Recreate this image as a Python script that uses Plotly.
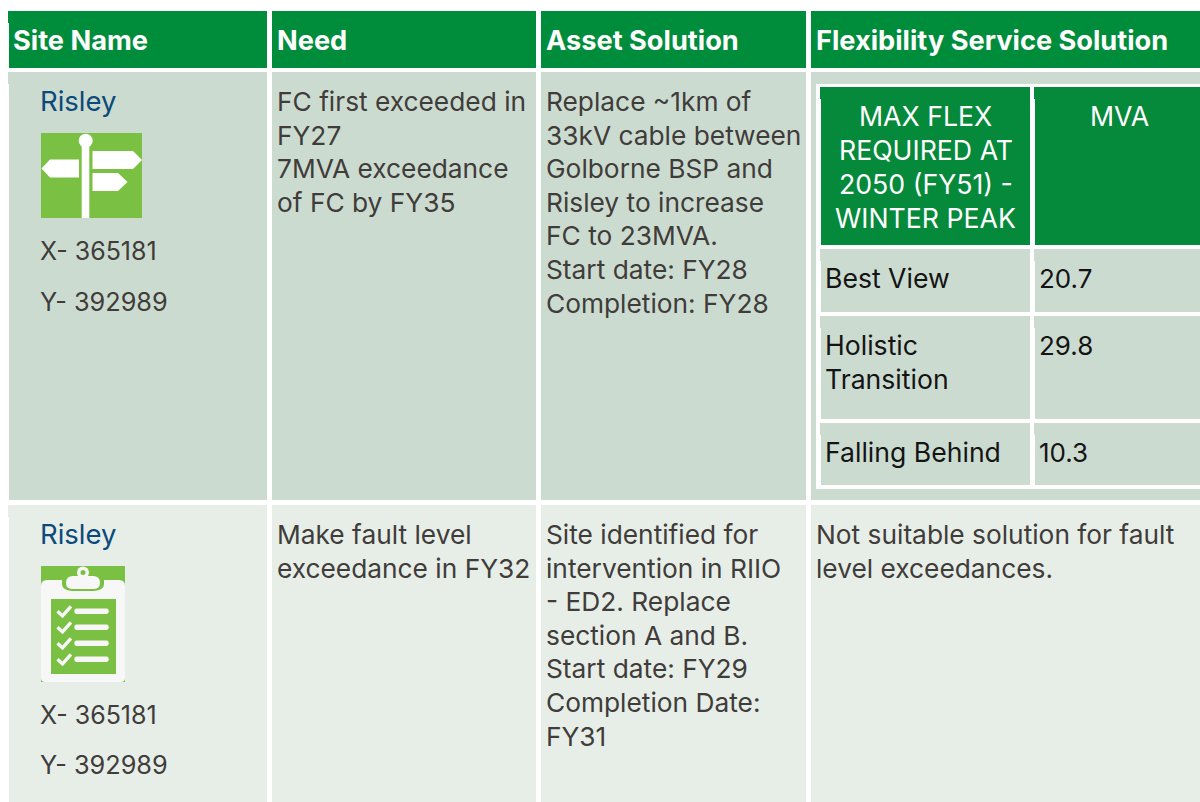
import plotly.graph_objects as go

# ---------- table content ----------
header_labels = ["Site Name", "Need", "Asset Solution", "Flexibility Service Solution"]
site_names = ["Risley", "Risley"]
site_x = ["X- 365181", "X- 365181"]
site_y = ["Y- 392989", "Y- 392989"]
needs = ["FC first exceeded in<br>FY27<br>7MVA exceedance<br>of FC by FY35",
         "Make fault level<br>exceedance in FY32"]
assets = ["Replace ~1km of<br>33kV cable between<br>Golborne BSP and<br>Risley to increase<br>FC to 23MVA.<br>Start date: FY28<br>Completion: FY28",
          "Site identified for<br>intervention in RIIO<br>- ED2. Replace<br>section A and B.<br>Start date: FY29<br>Completion Date:<br>FY31"]
flex_note = "Not suitable solution for fault<br>level exceedances."
nested_head = ["MAX FLEX<br>REQUIRED AT<br>2050 (FY51) -<br>WINTER PEAK", "MVA"]
scenarios = ["Best View", "Holistic<br>Transition", "Falling Behind"]
mva_values = [20.7, 29.8, 10.3]

# ---------- layout geometry (pixels) ----------
W, H = 1200, 802
col_left = [9, 272, 541, 811]
col_right = [267, 536, 806, 1200]
row_top = [11, 72, 505]
row_bot = [68, 500, 802]
nest_left = [821, 1035]
nest_right = [1030, 1200]
nest_top = [87, 249, 316, 423]
nest_bot = [245, 312, 419, 485]
GREEN, GREEN2 = "#008d3b", "#05893a"
ROW1, ROW2 = "#ccdbd0", "#e7eee8"
ICON = "#7ac143"
BODY, LINK, DARK = "#403c3a", "#0b4a7a", "#141414"
FONT = "Inter"
SIZE = 26.3
LINE = 33.6
PAD = 3.3  # annotation box padding to compensate
DY = -0.6

shapes, annos = [], []

def rect(x0, y0, x1, y1, color, notch=False):
    shapes.append(dict(type="rect", xref="x", yref="y", x0=x0, y0=y0, x1=x1, y1=y1,
                       fillcolor=color, line_width=0, layer="below"))
    if notch:
        shapes.append(dict(type="rect", xref="x", yref="y", x0=x0 - 1, y0=y0, x1=x0, y1=y0 + 12,
                           fillcolor=color, line_width=0, layer="below"))

def text(x, y, s, color=BODY, size=SIZE, anchor="left", weight=400, line=LINE):
    xpos = x - PAD if anchor == "left" else x
    for i, part in enumerate(str(s).split("<br>")):
        annos.append(dict(x=xpos, y=y + DY + i * line, xref="x", yref="y", text=part, showarrow=False,
                          xanchor=anchor, yanchor="middle", align=anchor,
                          font=dict(family=FONT, size=size, color=color, weight=weight)))

def path(d, fill, line=None, lw=0):
    shapes.append(dict(type="path", xref="x", yref="y", path=d, fillcolor=fill,
                       line=dict(color=line or fill, width=lw), layer="above"))

# cells
for c in range(4):
    rect(col_left[c], row_top[0], col_right[c], row_bot[0], GREEN, notch=c == 0)
    rect(col_left[c], row_top[1], col_right[c], row_bot[1], ROW1, notch=c == 0)
    rect(col_left[c], row_top[2], col_right[c], row_bot[2], ROW2, notch=c == 0)

# nested table
rect(816, 84, W, 489, "#ffffff")
for c in range(2):
    rect(nest_left[c], nest_top[0], nest_right[c], nest_bot[0], GREEN2, notch=True)
    for r in range(1, 4):
        rect(nest_left[c], nest_top[r], nest_right[c], nest_bot[r], ROW1, notch=True)

# header text
head_x = [14, 278, 547, 817]
for x, s in zip(head_x, header_labels):
    text(x, 41, s, "#ffffff", size=27.2, weight=700)

# body text
for name, xs, ys, ny, xy, yy in zip(site_names, site_x, site_y, [102, 535], [252, 716], [302, 765]):
    text(41, ny, name, LINK, size=27.5)
    text(41, xy, xs, size=25)
    text(41, yy, ys, size=25.3)
for y0, need, asset in zip([102, 535], needs, assets):
    text(278, y0, need)
    text(547, y0, asset)
text(817, 535, flex_note)

# nested text
text(925.5, 117, nested_head[0], "#ffffff", size=26.7, anchor="center", line=34)
text(1119, 117, nested_head[1], "#ffffff", size=26.7, anchor="center")
for y0, s, v in zip([279, 346, 453], scenarios, mva_values):
    text(826, y0, s, DARK, size=26.6, line=34)
    text(1040, y0, v, DARK, size=26)

# signpost icon
rect(41, 133, 142, 218, ICON)
shapes[-1]["layer"] = "above"
path("M 81.7 218 L 81.7 145 L 89.3 145 L 89.3 218 Z", "#ffffff")
shapes.append(dict(type="circle", xref="x", yref="y", x0=78.7, y0=133.7, x1=92.7, y1=147.7,
                   fillcolor="#ffffff", line_width=0, layer="above"))
path("M 92.5 151 L 133 151 L 142 160 L 133 169 L 92.5 169 Z", "#ffffff")
path("M 79 159.5 L 50 159.5 L 41.5 168.5 L 50 177.5 L 79 177.5 Z", "#ffffff")
path("M 92.5 173 L 118 173 L 127.5 182 L 118 191 L 92.5 191 Z", "#ffffff")

# clipboard icon
rect(41, 566, 125, 682, ICON)
shapes[-1]["layer"] = "above"
PAPER = "#f7f7f7"
path("M 41 586 Q 41 580 47 580 L 119 580 Q 125 580 125 586 L 125 678 Q 125 682 121 682 L 45 682 Q 41 682 41 678 Z", PAPER)
path("M 62 580 L 62 584 Q 62 590 72 591 L 94 591 Q 104 590 104 584 L 104 580 Z", ICON)
path("M 66 583 Q 66 576 73 576 L 93 576 Q 100 576 100 583 Q 100 589 93 589 L 73 589 Q 66 589 66 583 Z", PAPER)
shapes.append(dict(type="circle", xref="x", yref="y", x0=77, y0=566.5, x1=89, y1=578.5,
                   fillcolor=PAPER, line_width=0, layer="above"))
shapes.append(dict(type="circle", xref="x", yref="y", x0=80.5, y0=570, x1=85.5, y1=575,
                   fillcolor=ICON, line_width=0, layer="above"))
rect(51, 599, 116, 674, ICON)
shapes[-1]["layer"] = "above"
for yc in [611.3, 627.3, 643.3, 659.3]:
    path(f"M 76 {yc-2.7} L 107 {yc-2.7} Q 108.7 {yc-2.7} 108.7 {yc} Q 108.7 {yc+2.7} 107 {yc+2.7} L 76 {yc+2.7} Q 74.3 {yc+2.7} 74.3 {yc} Q 74.3 {yc-2.7} 76 {yc-2.7} Z", PAPER)
    path(f"M 57.5 {yc} L 62.5 {yc+4.5} L 71 {yc-5}", "rgba(0,0,0,0)", PAPER, 3.4)

fig = go.Figure()
fig.update_layout(
    width=W, height=H, margin=dict(l=0, r=0, t=0, b=0),
    paper_bgcolor="#ffffff", plot_bgcolor="#ffffff", showlegend=False,
    xaxis=dict(range=[0, W], visible=False, fixedrange=True),
    yaxis=dict(range=[H, 0], visible=False, fixedrange=True),
    shapes=shapes, annotations=annos,
)
fig.write_html("out.html", config=dict(displayModeBar=False),
               post_script="document.body.style.margin='0';document.body.style.overflow='hidden';")
